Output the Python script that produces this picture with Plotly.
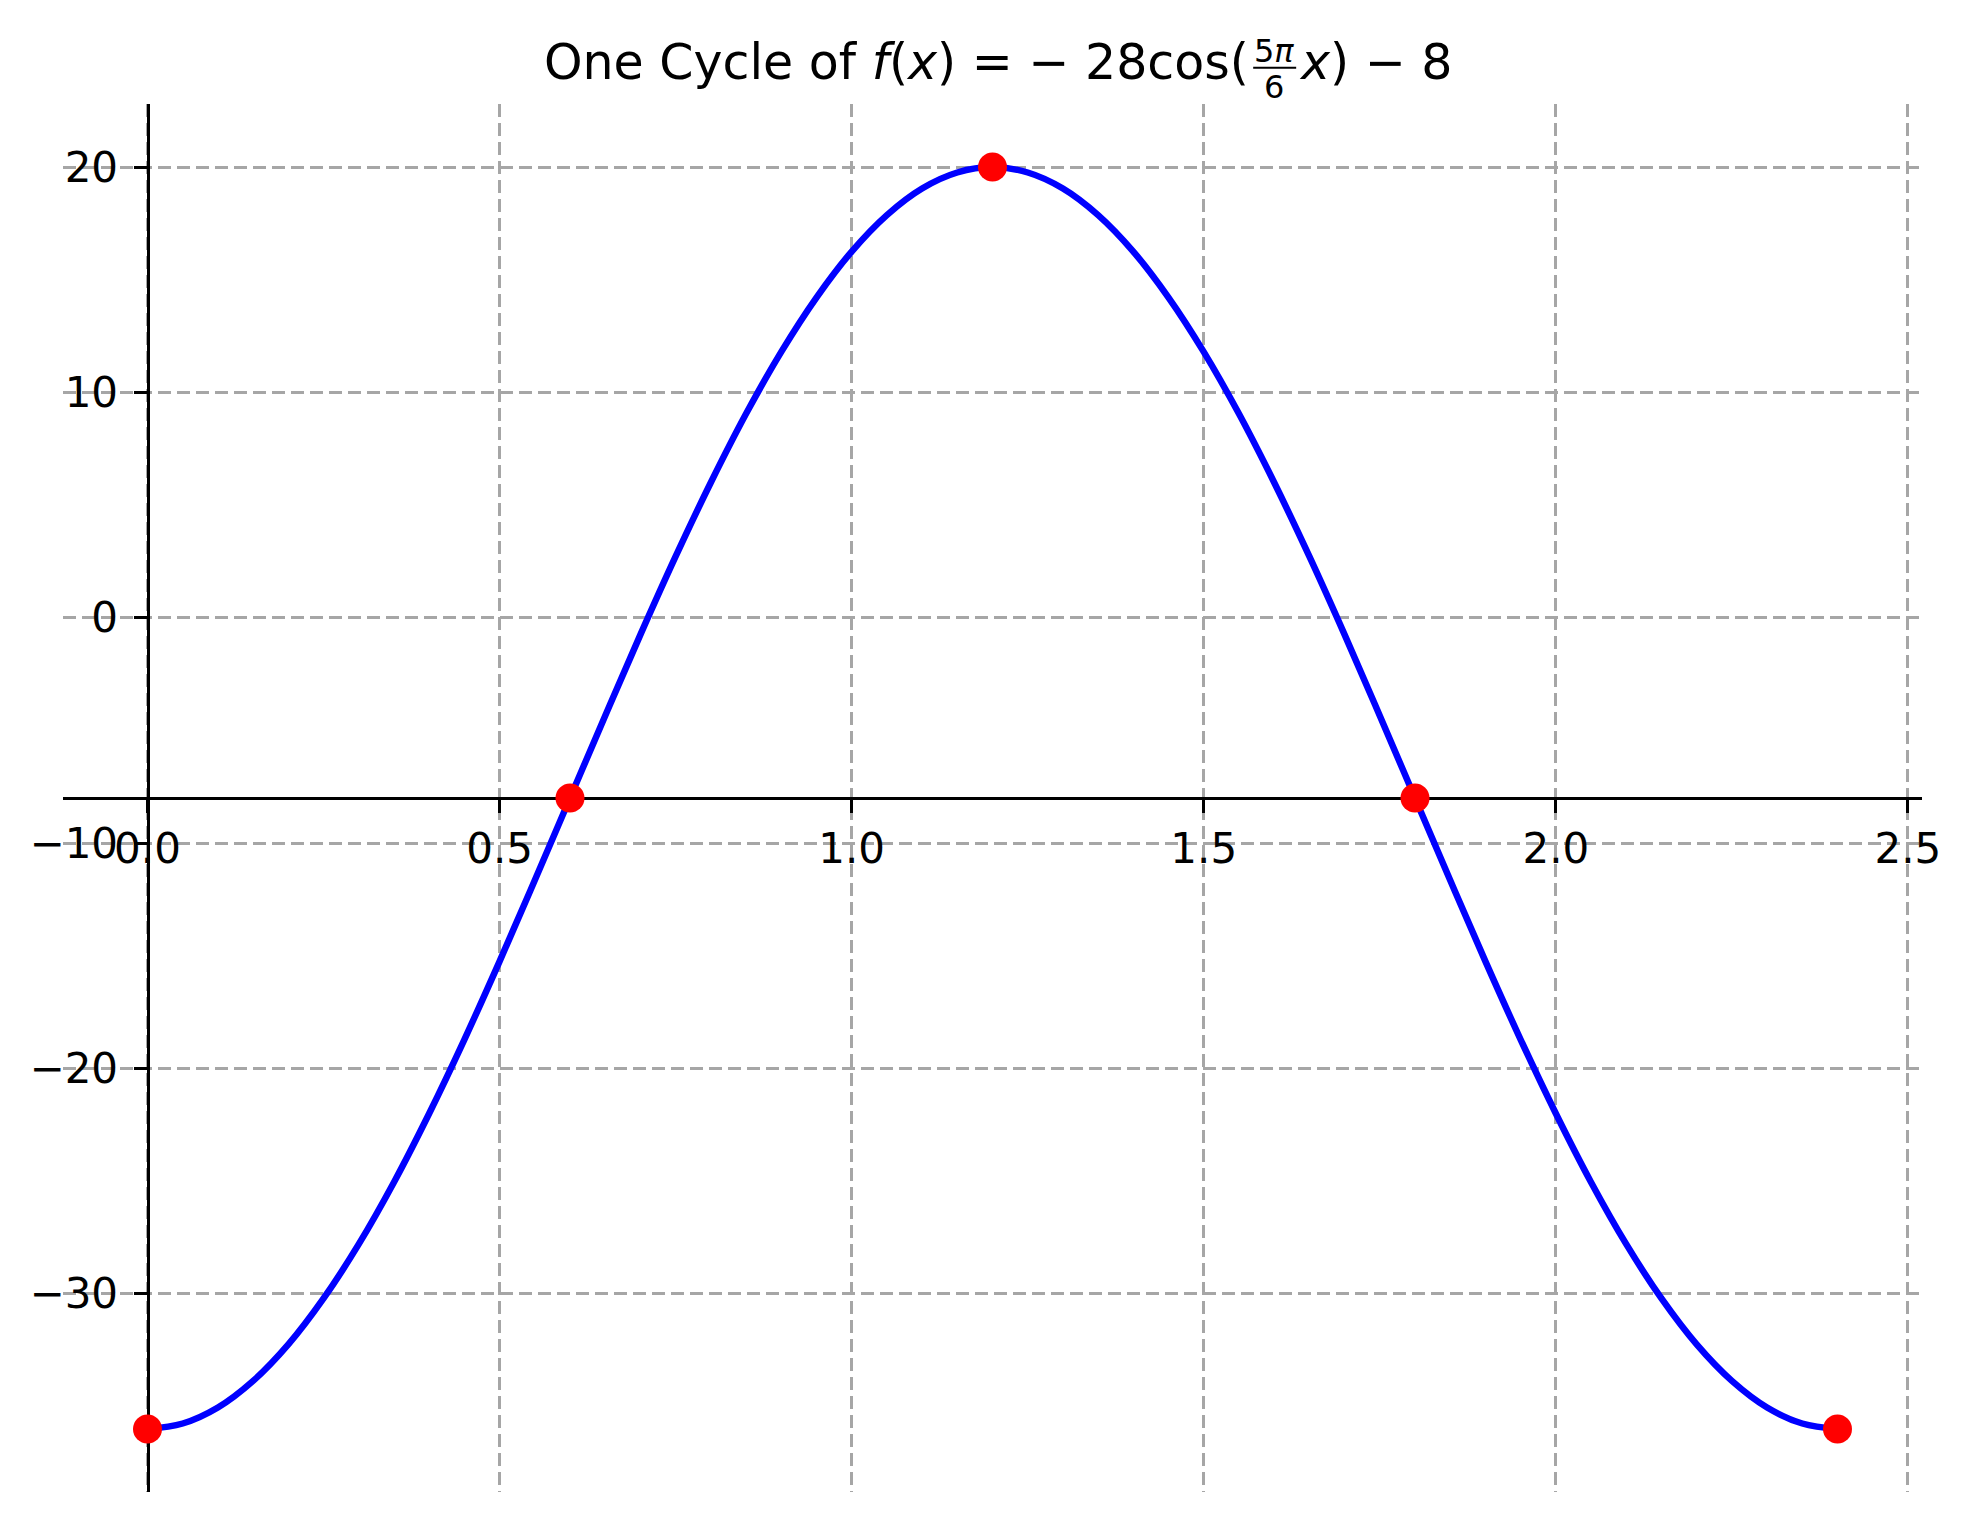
import plotly.graph_objects as go

# ---- data ----
x_curve = [0.0, 0.05, 0.1, 0.15, 0.2, 0.25, 0.3, 0.35, 0.4, 0.45, 0.5, 0.55, 0.6,
           0.65, 0.7, 0.75, 0.8, 0.85, 0.9, 0.95, 1.0, 1.05, 1.1, 1.15, 1.2,
           1.25, 1.3, 1.35, 1.4, 1.45, 1.5, 1.55, 1.6, 1.65, 1.7, 1.75, 1.8,
           1.85, 1.9, 1.95, 2.0, 2.05, 2.1, 2.15, 2.2, 2.25, 2.3, 2.35, 2.4]
y_curve = [-36.0, -35.76, -35.05, -33.87, -32.25, -30.21, -27.8, -25.05, -22.0, -18.72, -15.25, -11.65, -8.0,
           -4.35, -0.75, 2.72, 6.0, 9.05, 11.8, 14.21, 16.25, 17.87, 19.05, 19.76, 20.0,
           19.76, 19.05, 17.87, 16.25, 14.21, 11.8, 9.05, 6.0, 2.72, -0.75, -4.35, -8.0,
           -11.65, -15.25, -18.72, -22.0, -25.05, -27.8, -30.21, -32.25, -33.87, -35.05, -35.76, -36.0]
x_points = [0.0, 0.6, 1.2, 1.8, 2.4]
y_points = [-36.0, -8.0, 20.0, -8.0, -36.0]
x_ticks = [0.0, 0.5, 1.0, 1.5, 2.0, 2.5]
x_tick_labels = ["0.0", "0.5", "1.0", "1.5", "2.0", "2.5"]
y_ticks = [-30, -20, -10, 0, 10, 20]
title_left = "One Cycle of <i>f</i>(<i>x</i>) = − 28cos("
title_num = "5<i>π</i>"
title_den = "6"
title_right = "<i>x</i>) − 8"

x_range = [-0.12, 2.52]
y_range = [-38.8, 22.8]
midline = -8.0

# ---- layout geometry ----
W, H = 1971, 1521
L, R, T, B = 62.5, 49, 104, 29
PW, PH = W - L - R, H - T - B


def px(x):
    return (x - L) / PW


def py(y):
    return (H - B - y) / PH


FONT = "DejaVu Sans"

fig = go.Figure()
fig.add_trace(go.Scatter(
    x=x_curve, y=y_curve, mode="lines",
    line=dict(color="#0000ff", width=6.5, shape="spline"),
    hoverinfo="skip", showlegend=False))
fig.add_trace(go.Scatter(
    x=x_points, y=y_points, mode="markers",
    marker=dict(color="#ff0000", size=29, line=dict(width=0)),
    showlegend=False, cliponaxis=False))

grid = dict(showgrid=True, gridcolor="#a6a6a6", gridwidth=2.5, griddash="13px,6px",
            zeroline=False, showline=True, linecolor="black", linewidth=3,
            ticks="outside", ticklen=13, tickwidth=3, tickcolor="black",
            tickfont=dict(family=FONT, size=42, color="black"),
            layer="below traces")

fig.update_xaxes(range=x_range, tickvals=x_ticks, ticktext=x_tick_labels,
                 anchor="free",
                 position=(midline - y_range[0]) / (y_range[1] - y_range[0]),
                 **grid)
fig.update_yaxes(range=y_range, tickvals=y_ticks,
                 anchor="free", ticklabelstandoff=7,
                 position=(0 - x_range[0]) / (x_range[1] - x_range[0]),
                 **grid)

ann_font = dict(family=FONT, size=49, color="black")
frac_font = dict(family=FONT, size=32, color="black")
fig.update_layout(
    width=W, height=H,
    margin=dict(l=L, r=R, t=T, b=B, pad=0),
    paper_bgcolor="white", plot_bgcolor="white",
    showlegend=False,
    annotations=[
        dict(text=title_left, x=px(1251), y=py(62.7), xref="paper", yref="paper",
             xanchor="right", yanchor="middle", showarrow=False, font=ann_font),
        dict(text=title_num, x=px(1274), y=py(51.5), xref="paper", yref="paper",
             xanchor="center", yanchor="middle", showarrow=False, font=frac_font),
        dict(text=title_den, x=px(1274), y=py(86.6), xref="paper", yref="paper",
             xanchor="center", yanchor="middle", showarrow=False, font=frac_font),
        dict(text=title_right, x=px(1297), y=py(62.7), xref="paper", yref="paper",
             xanchor="left", yanchor="middle", showarrow=False, font=ann_font),
    ],
    shapes=[
        dict(type="line", xref="paper", yref="paper",
             x0=px(1253), x1=px(1296), y0=py(67.7), y1=py(67.7),
             line=dict(color="black", width=2)),
    ],
)

fig.write_html("out.html")
